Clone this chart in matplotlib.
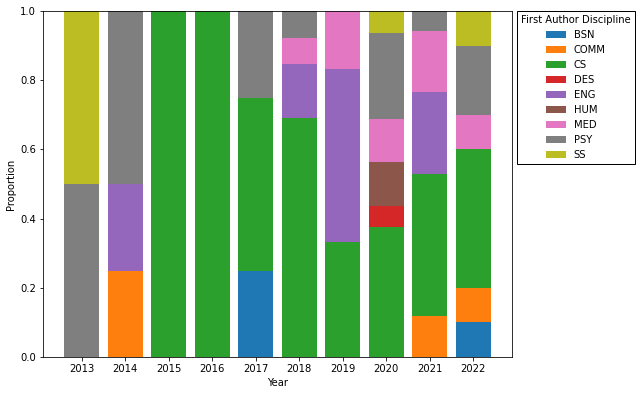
import numpy as np
import matplotlib
matplotlib.use("Agg")
import matplotlib.pyplot as plt

years = ["2013", "2014", "2015", "2016", "2017", "2018", "2019", "2020", "2021", "2022"]
disciplines = ["BSN", "COMM", "CS", "DES", "ENG", "HUM", "MED", "PSY", "SS"]

# proportions per discipline, one value per year
bsn  = [0,    0,    0, 0, 0.25, 0,     0,     0,      0,     0.1]
comm = [0,    0.25, 0, 0, 0,    0,     0,     0,      2/17,  0.1]
cs   = [0,    0,    1, 1, 0.5,  9/13,  2/6,   6/16,   7/17,  0.4]
des  = [0,    0,    0, 0, 0,    0,     0,     1/16,   0,     0]
eng  = [0,    0.25, 0, 0, 0,    2/13,  3/6,   0,      4/17,  0]
hum  = [0,    0,    0, 0, 0,    0,     0,     2/16,   0,     0]
med  = [0,    0,    0, 0, 0,    1/13,  1/6,   2/16,   3/17,  0.1]
psy  = [0.5,  0.5,  0, 0, 0.25, 1/13,  0,     4/16,   1/17,  0.2]
ss   = [0.5,  0,    0, 0, 0,    0,     0,     1/16,   0,     0.1]

series = [bsn, comm, cs, des, eng, hum, med, psy, ss]
colors = ["#1f77b4", "#ff7f0e", "#2ca02c", "#d62728", "#9467bd",
          "#8c564b", "#e377c2", "#7f7f7f", "#bcbd22"]

fig = plt.figure(figsize=(641/72, 395/72), dpi=72)
ax = fig.add_axes([0.067, 0.096, 0.732, 0.876])

x = np.arange(len(years))
bottom = np.zeros(len(years))
for name, vals, c in zip(disciplines, series, colors):
    vals = np.array(vals)
    ax.bar(x, vals, bottom=bottom, color=c, width=0.8, label=name)
    bottom += vals

ax.set_xticks(x)
ax.set_xticklabels(years)
ax.set_ylim(0, 1)
ax.set_xlabel("Year")
ax.set_ylabel("Proportion")
ax.legend(title="First Author Discipline", loc="upper left",
          bbox_to_anchor=(1.01, 1.0), borderaxespad=0, fancybox=False,
          edgecolor="black", framealpha=1)

fig.savefig("out.png", dpi=72)
